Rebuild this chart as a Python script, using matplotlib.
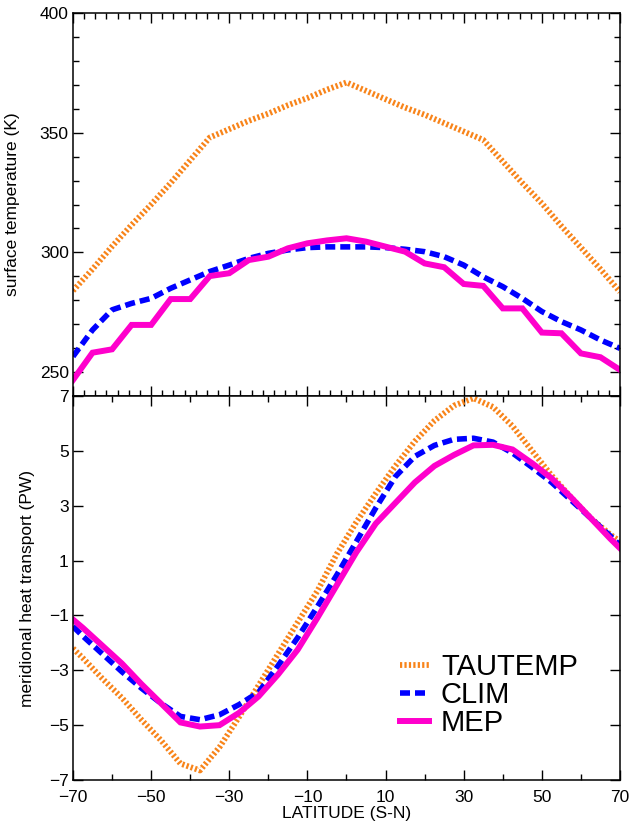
import numpy as np
import matplotlib
matplotlib.use("Agg")
import matplotlib.pyplot as plt
from matplotlib.ticker import MultipleLocator, FixedLocator

plt.rcParams["font.family"] = ["Liberation Sans", "DejaVu Sans"]

# -------------------------------
# Data
# -------------------------------
lat_t = [-70, -65, -60, -55, -50, -45, -40, -35, -30, -25, -20, -15, -10, -5, 0,
         5, 10, 15, 20, 25, 30, 35, 40, 45, 50, 55, 60, 65, 70]

tautemp_t = [284, 293, 302.5, 311.5, 320, 329, 338.5, 348, 351.5, 355, 358, 361.5, 364.5, 368, 371,
             367.5, 364, 360.5, 357.5, 354, 350.5, 347, 338, 329, 320.5, 311, 302, 293, 283.5]
clim_t = [256.5, 267.6, 276, 278.7, 280.8, 285, 288.5, 292, 294.7, 297.5, 299.6, 301, 302, 302.3, 302.3,
          302.3, 302, 301.3, 300.3, 298.2, 294.7, 289.8, 285.7, 280.8, 275.3, 271.1, 267.6, 263.4, 259.9]
mep_t = [246.7, 258.1, 259.5, 269.7, 269.7, 280.5, 280.5, 290.1, 291.3, 296.8, 298.2, 301.7, 303.8, 305, 305.9,
         304.5, 302.4, 300.3, 295.4, 293.8, 286.8, 286, 276.6, 276.6, 266.5, 266.2, 257.8, 256.2, 250.9]

lat_q = [-70, -67.5, -62.5, -57.5, -52.5, -47.5, -42.5, -37.5, -32.5, -27.5, -22.5, -17.5, -12.5, -7.5, -2.5,
         2.5, 7.5, 12.5, 17.5, 22.5, 27.5, 32.5, 37.5, 42.5, 47.5, 52.5, 57.5, 62.5, 67.5, 70]

tautemp_q = [-2.2, -2.55, -3.3, -4.0, -4.8, -5.55, -6.4, -6.65, -5.8, -4.7, -3.55, -2.4, -1.25, -0.12, 1.24,
             2.4, 3.45, 4.45, 5.35, 6.1, 6.65, 6.92, 6.6, 5.9, 5.0, 4.1, 3.3, 2.55, 1.95, 1.7]
clim_q = [-1.4, -1.75, -2.4, -3.05, -3.65, -4.2, -4.68, -4.8, -4.62, -4.25, -3.8, -2.83, -1.81, -0.69, 0.47,
          1.69, 2.92, 4.06, 4.8, 5.2, 5.42, 5.46, 5.32, 4.92, 4.4, 3.85, 3.2, 2.55, 1.9, 1.56]
mep_q = [-1.15, -1.45, -2.1, -2.75, -3.5, -4.2, -4.9, -5.05, -5.0, -4.55, -3.95, -3.15, -2.25, -1.1, 0.1,
         1.3, 2.35, 3.1, 3.85, 4.45, 4.85, 5.2, 5.22, 5.05, 4.55, 4.0, 3.3, 2.55, 1.8, 1.45]

labels = ["TAUTEMP", "CLIM", "MEP"]

ORANGE = "#F8841A"
BLUE = "#0000FF"
MAGENTA = "#FF00CC"

styles = [
    dict(color=ORANGE, lw=4.2, ls=(0, (0.38, 0.38)), dash_capstyle="butt"),
    dict(color=BLUE, lw=4.0, ls=(0, (1.8, 0.9)), dash_capstyle="butt"),
    dict(color=MAGENTA, lw=4.3, ls="-", solid_joinstyle="miter"),
]

# -------------------------------
# Figure
# -------------------------------
fig = plt.figure(figsize=(6.32, 8.25), dpi=100)
ax1 = fig.add_axes([0.1155, 0.52, 0.8655, 0.4642])
ax2 = fig.add_axes([0.1155, 0.0545, 0.8655, 0.4655])

for y, st in zip([tautemp_t, clim_t, mep_t], styles):
    ax1.plot(lat_t, y, **st)
for y, st, lab in zip([tautemp_q, clim_q, mep_q], styles, labels):
    ax2.plot(lat_q, y, label=lab, **st)

for ax in (ax1, ax2):
    ax.set_xlim(-70, 70)
    ax.set_xticks(np.arange(-70, 71, 20))
    ax.tick_params(which="both", direction="in", top=True, right=True,
                   labelsize=12.5, width=1.0)
    ax.tick_params(which="major", length=7)
    ax.tick_params(which="minor", length=4)
    for sp in ax.spines.values():
        sp.set_linewidth(1.1)

# top panel
ax1.set_ylim(240, 400)
ax1.set_yticks([250, 300, 350, 400])
ax1.yaxis.set_minor_locator(MultipleLocator(10))
ax1.xaxis.set_minor_locator(FixedLocator(np.arange(-70, 70.01, 20 / 7)))
ax1.tick_params(axis="x", labelbottom=False)
ax1.tick_params(axis="y", pad=3)
ax1.set_ylabel("surface temperature (K)", fontsize=12.5)
ax1.yaxis.set_label_coords(-0.097, 0.5)

# bottom panel
ax2.set_ylim(-7, 7)
ax2.set_yticks(np.arange(-7, 8, 2))
ax2.xaxis.set_minor_locator(MultipleLocator(10))
ax2.tick_params(axis="x", pad=7)
ax2.tick_params(axis="y", pad=3)
ax2.set_ylabel("meridional heat transport (PW)", fontsize=12.5)
ax2.yaxis.set_label_coords(-0.069, 0.5)
ax2.set_xlabel("LATITUDE (S-N)", fontsize=12.5, labelpad=1)

ax2.legend(loc="upper left", bbox_to_anchor=(0.598, 0.33), frameon=False,
           fontsize=21, handlelength=1.0, handletextpad=0.4, labelspacing=0.0,
           borderpad=0, borderaxespad=0)

fig.savefig("out.png", dpi=100)
